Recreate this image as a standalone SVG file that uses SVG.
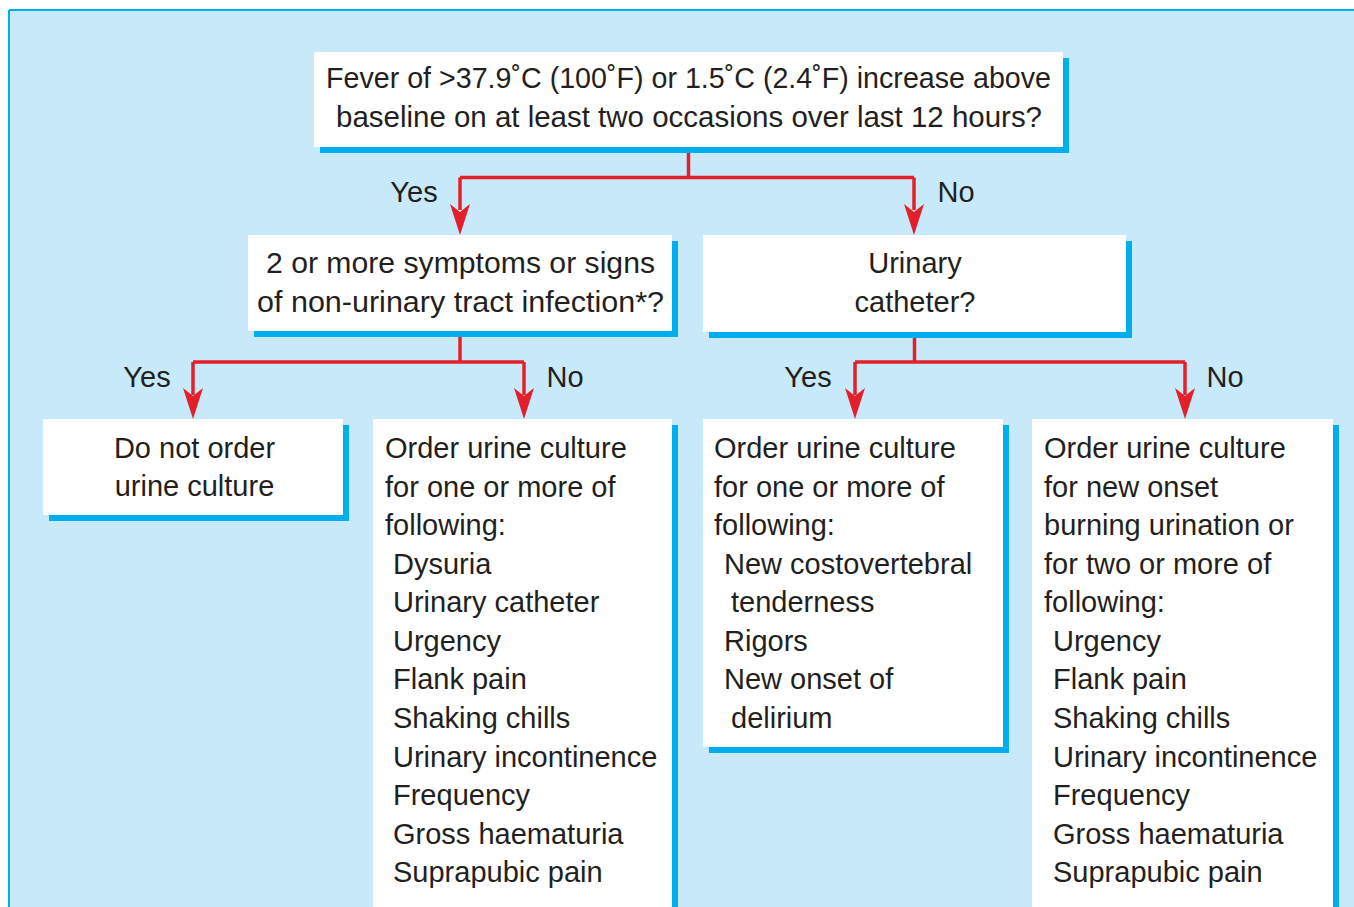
<svg xmlns="http://www.w3.org/2000/svg" width="1354" height="907" viewBox="0 0 1354 907">
<defs>
<style>
.t{font-family:"Liberation Sans",Arial,"DejaVu Sans",sans-serif;font-size:29px;fill:#231F20}
.c{text-anchor:middle}
.box{fill:#FFFFFF}
.sh{fill:#00AEEF}
.ln{stroke:#E3202A;stroke-width:3.5;fill:none}
.ah{fill:#E3202A}
</style>
</defs>
<rect x="0" y="0" width="1354" height="907" fill="#FFFFFF"/>
<rect x="9" y="10" width="1350" height="905" fill="#C7E9F9"/>
<line x1="9" y1="10" x2="1354" y2="10" stroke="#00AEEF" stroke-width="2"/>
<line x1="9" y1="10" x2="9" y2="907" stroke="#00AEEF" stroke-width="2"/>

<g id="connectors">
<path class="ln" d="M688.5,147 V177.5 M460,177.5 H914 M460,177.5 V210 M914,177.5 V210"/>
<path class="ah" d="M460,235 L450,204 L460,212 L470,204 Z"/>
<path class="ah" d="M914,235 L904,204 L914,212 L924,204 Z"/>
<path class="ln" d="M460,331 V362 M193,362 H524 M193,362 V395 M524,362 V395"/>
<path class="ah" d="M193,419 L183,388 L193,396 L203,388 Z"/>
<path class="ah" d="M524,419 L514,388 L524,396 L534,388 Z"/>
<path class="ln" d="M914.5,332 V362 M855,362 H1185 M855,362 V395 M1185,362 V395"/>
<path class="ah" d="M855,419 L845,388 L855,396 L865,388 Z"/>
<path class="ah" d="M1185,419 L1175,388 L1185,396 L1195,388 Z"/>
<text class="t c" x="414" y="202">Yes</text>
<text class="t c" x="956" y="202">No</text>
<text class="t c" x="147" y="387">Yes</text>
<text class="t c" x="565" y="387">No</text>
<text class="t c" x="808" y="387">Yes</text>
<text class="t c" x="1225" y="387">No</text>
</g>

<g id="fever">
<rect class="sh" x="320" y="58" width="749" height="95"/>
<rect class="box" x="314" y="52" width="749" height="95"/>
<text class="t c" x="688.5" y="88" textLength="725" lengthAdjust="spacingAndGlyphs">Fever of &gt;37.9˚C (100˚F) or 1.5˚C (2.4˚F) increase above</text>
<text class="t c" x="689" y="127" textLength="706" lengthAdjust="spacingAndGlyphs">baseline on at least two occasions over last 12 hours?</text>
</g>

<g id="symptoms">
<rect class="sh" x="254" y="241" width="424" height="96"/>
<rect class="box" x="248" y="235" width="424" height="96"/>
<text class="t c" x="460.5" y="273" textLength="389" lengthAdjust="spacingAndGlyphs">2 or more symptoms or signs</text>
<text class="t c" x="460.5" y="312" textLength="407" lengthAdjust="spacingAndGlyphs">of non-urinary tract infection*?</text>
</g>

<g id="catheter">
<rect class="sh" x="709" y="241" width="423" height="97"/>
<rect class="box" x="703" y="235" width="423" height="97"/>
<text class="t c" x="915" y="273">Urinary</text>
<text class="t c" x="915" y="312">catheter?</text>
</g>

<g id="donot">
<rect class="sh" x="49" y="425" width="300" height="96"/>
<rect class="box" x="43" y="419" width="300" height="96"/>
<text class="t c" x="194.5" y="458">Do not order</text>
<text class="t c" x="194.5" y="496">urine culture</text>
</g>

<g id="order-noncath">
<rect class="sh" x="379" y="425" width="299" height="500"/>
<rect class="box" x="373" y="419" width="299" height="500"/>
<text class="t" x="385" y="458">Order urine culture</text>
<text class="t" x="385" y="497">for one or more of</text>
<text class="t" x="385" y="535">following:</text>
<text class="t" x="393" y="574">Dysuria</text>
<text class="t" x="393" y="612">Urinary catheter</text>
<text class="t" x="393" y="651">Urgency</text>
<text class="t" x="393" y="689">Flank pain</text>
<text class="t" x="393" y="728">Shaking chills</text>
<text class="t" x="393" y="767">Urinary incontinence</text>
<text class="t" x="393" y="805">Frequency</text>
<text class="t" x="393" y="844">Gross haematuria</text>
<text class="t" x="393" y="882">Suprapubic pain</text>
</g>

<g id="order-cath">
<rect class="sh" x="709" y="425" width="300" height="328"/>
<rect class="box" x="703" y="419" width="300" height="328"/>
<text class="t" x="714" y="458">Order urine culture</text>
<text class="t" x="714" y="497">for one or more of</text>
<text class="t" x="714" y="535">following:</text>
<text class="t" x="724" y="574">New costovertebral</text>
<text class="t" x="731" y="612">tenderness</text>
<text class="t" x="724" y="651">Rigors</text>
<text class="t" x="724" y="689">New onset of</text>
<text class="t" x="731" y="728">delirium</text>
</g>

<g id="order-nocath">
<rect class="sh" x="1038" y="425" width="301" height="500"/>
<rect class="box" x="1032" y="419" width="301" height="500"/>
<text class="t" x="1044" y="458">Order urine culture</text>
<text class="t" x="1044" y="497">for new onset</text>
<text class="t" x="1044" y="535">burning urination or</text>
<text class="t" x="1044" y="574">for two or more of</text>
<text class="t" x="1044" y="612">following:</text>
<text class="t" x="1053" y="651">Urgency</text>
<text class="t" x="1053" y="689">Flank pain</text>
<text class="t" x="1053" y="728">Shaking chills</text>
<text class="t" x="1053" y="767">Urinary incontinence</text>
<text class="t" x="1053" y="805">Frequency</text>
<text class="t" x="1053" y="844">Gross haematuria</text>
<text class="t" x="1053" y="882">Suprapubic pain</text>
</g>
</svg>
